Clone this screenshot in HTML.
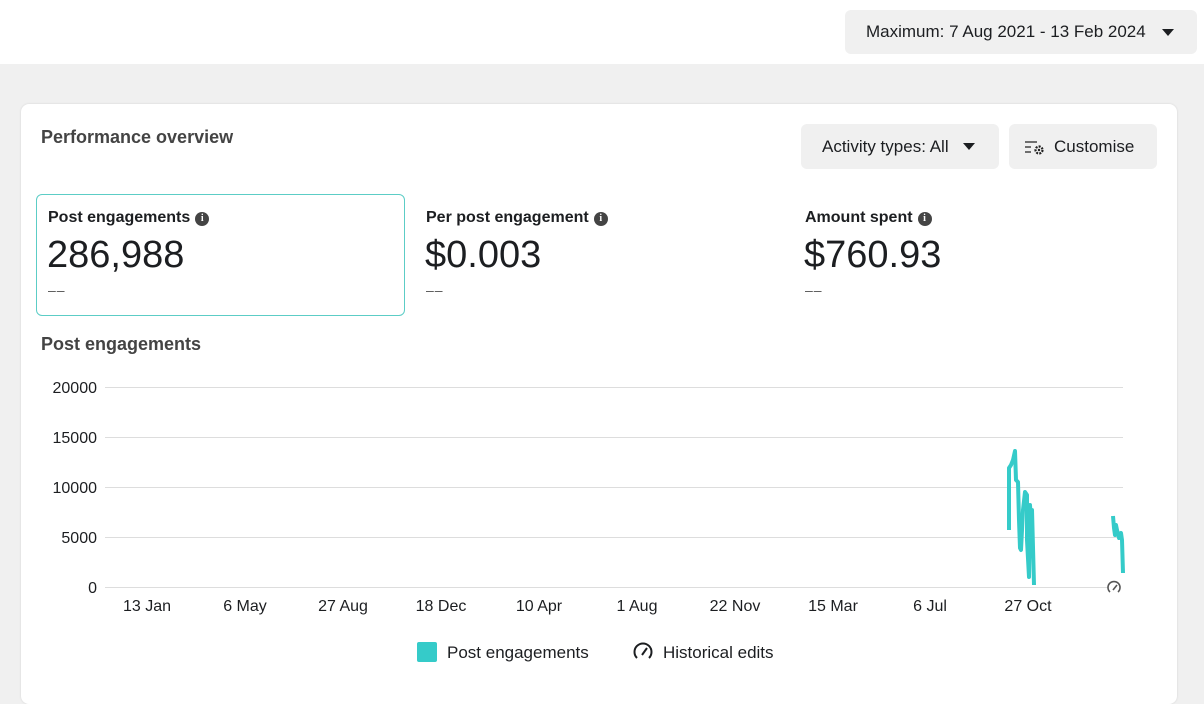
<!DOCTYPE html>
<html><head><meta charset="utf-8"><style>
*{margin:0;padding:0;box-sizing:border-box}
body{width:1204px;height:688px;overflow:hidden;background:#f0f0f0;font-family:"Liberation Sans",sans-serif;color:#1c1e21;position:relative}
.top{position:absolute;left:0;top:0;width:1204px;height:64px;background:#fff}
.btn{position:absolute;background:#f0f0f0;border-radius:6px;font-size:17px;color:#1c1e21;display:flex;align-items:center}
.card{position:absolute;left:21px;top:104px;width:1156px;height:600px;background:#fff;border-radius:8px;box-shadow:0 0 2px rgba(0,0,0,.12)}
.abs{position:absolute}
.tri{display:inline-block;width:0;height:0;border-left:6px solid transparent;border-right:6px solid transparent;border-top:7px solid #1c1e21;margin-left:14px}
.lbl{font-size:16px;font-weight:bold;color:#1c1e21}
.big{font-size:38px;color:#1c1e21}
.info{display:inline-block;width:14px;height:14px;border-radius:50%;background:#444;color:#fff;font-size:10px;text-align:center;line-height:14px;font-weight:bold;vertical-align:1px;margin-left:5px;font-family:"Liberation Serif",serif}
.dash{font-size:14px;color:#555;letter-spacing:1px}
</style></head><body>
<div class="top"></div>
<div class="btn" style="left:845px;top:10px;width:352px;height:44px;padding-left:21px">Maximum: 7 Aug 2021 - 13 Feb 2024<span class="tri" style="margin-left:16px"></span></div>
<div class="card"></div>
<div class="abs" style="left:41px;top:127px;font-size:18px;font-weight:bold;color:#444">Performance overview</div>
<div class="btn" style="left:801px;top:124px;width:198px;height:45px;padding-left:21px">Activity types: All<span class="tri"></span></div>
<div class="btn" style="left:1009px;top:124px;width:148px;height:45px;padding-left:15px">
<svg width="22" height="16" viewBox="0 0 22 16" style="margin-right:8px"><path d="M1 3h12M1 8h6M1 13h6" stroke="#444" stroke-width="1.6"/><circle cx="15" cy="11" r="3.5" fill="none" stroke="#222" stroke-width="2.2" stroke-dasharray="2 1.2"/><circle cx="15" cy="11" r="1.2" fill="#222"/></svg>Customise</div>
<div class="abs" style="left:36px;top:194px;width:369px;height:122px;border:1.5px solid #5ccdc6;border-radius:6px"></div>
<div class="abs lbl" style="left:48px;top:209px">Post engagements<span class="info">i</span></div>
<div class="abs big" style="left:47px;top:234px">286,988</div>
<div class="abs dash" style="left:48px;top:282px">‒‒</div>
<div class="abs lbl" style="left:426px;top:209px">Per post engagement<span class="info">i</span></div>
<div class="abs big" style="left:425px;top:234px">$0.003</div>
<div class="abs dash" style="left:426px;top:282px">‒‒</div>
<div class="abs lbl" style="left:805px;top:209px">Amount spent<span class="info">i</span></div>
<div class="abs big" style="left:804px;top:234px">$760.93</div>
<div class="abs dash" style="left:805px;top:282px">‒‒</div>
<div class="abs" style="left:41px;top:334px;font-size:18px;font-weight:bold;color:#444">Post engagements</div>
<svg class="abs" style="left:0;top:0" width="1204" height="688">
<g stroke="#ddd" stroke-width="1"><line x1="105" y1="387.5" x2="1123" y2="387.5"/><line x1="105" y1="437.5" x2="1123" y2="437.5"/><line x1="105" y1="487.5" x2="1123" y2="487.5"/><line x1="105" y1="537.5" x2="1123" y2="537.5"/><line x1="105" y1="587.5" x2="1108" y2="587.5"/></g>
<g font-size="16" fill="#1c1e21" text-anchor="end" font-family="Liberation Sans,sans-serif"><text x="97" y="393">20000</text><text x="97" y="443">15000</text><text x="97" y="493">10000</text><text x="97" y="543">5000</text><text x="97" y="593">0</text></g>
<g font-size="16" fill="#1c1e21" text-anchor="middle" font-family="Liberation Sans,sans-serif"><text x="147" y="611">13 Jan</text><text x="245" y="611">6 May</text><text x="343" y="611">27 Aug</text><text x="441" y="611">18 Dec</text><text x="539" y="611">10 Apr</text><text x="637" y="611">1 Aug</text><text x="735" y="611">22 Nov</text><text x="833" y="611">15 Mar</text><text x="930" y="611">6 Jul</text><text x="1028" y="611">27 Oct</text></g>
<polyline fill="none" stroke="#35cbc9" stroke-width="4" stroke-linejoin="round" points="1009,530 1009,468 1011,465 1013,460 1015,451 1016,480 1018,482 1019,520 1020,548 1021,550 1023,510 1025,492 1027,495 1027,540 1029,577 1030,505 1031,520 1032,510 1034,585"/>
<polyline fill="none" stroke="#35cbc9" stroke-width="4" stroke-linejoin="round" points="1113,516 1114,528 1115,535 1116,525 1117,530 1119,538 1121,533 1122,540 1123,573"/>
<g transform="translate(1114,588)" fill="none" stroke="#555" stroke-width="1.6"><path d="M-4 4 A6 6 0 1 1 4 4"/><path d="M-1 2 L3 -3"/></g>
<rect x="417" y="642" width="20" height="20" rx="2" fill="#35cbc9"/>
<text x="447" y="658" font-size="17" fill="#1c1e21" font-family="Liberation Sans,sans-serif">Post engagements</text>
<g transform="translate(643,652)" fill="none" stroke="#1c1e21" stroke-width="2"><path d="M-6 6 A8.5 8.5 0 1 1 6 6"/><path d="M-1 3 L4 -4"/></g>
<text x="663" y="658" font-size="17" fill="#1c1e21" font-family="Liberation Sans,sans-serif">Historical edits</text>
</svg>
</body></html>
